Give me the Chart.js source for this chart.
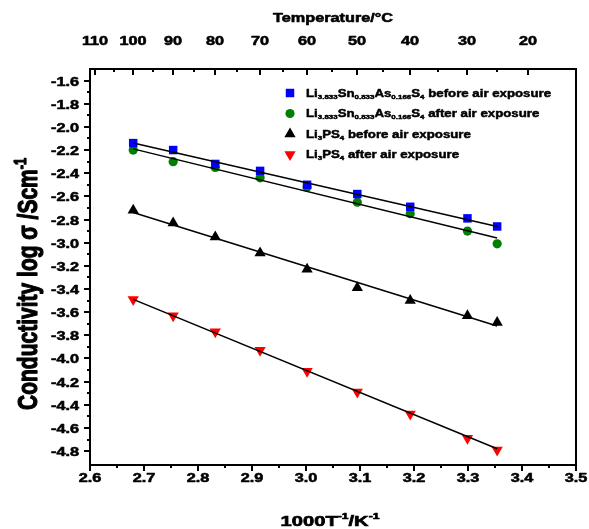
<!DOCTYPE html>
<html>
<head>
<meta charset="utf-8">
<script src="https://cdn.jsdelivr.net/npm/chart.js@4.4.1/dist/chart.umd.min.js"></script>
<style>
  html, body { margin: 0; padding: 0; background: #fff; }
</style>
</head>
<body>
<canvas id="arrhenius" width="589" height="529"></canvas>
<script>
// 1000/T (K^-1) of each measurement (100, 90, ... 30, 25 °C)
const invT = [2.680, 2.754, 2.832, 2.915, 3.002, 3.095, 3.193, 3.299, 3.354];

// log conductivity (S/cm)
const snAsBefore = [-2.14, -2.20, -2.32, -2.38, -2.50, -2.58, -2.69, -2.79, -2.86];
const snAsAfter  = [-2.20, -2.30, -2.35, -2.44, -2.52, -2.65, -2.75, -2.90, -3.01];
const lpsBefore  = [-2.72, -2.83, -2.95, -3.09, -3.23, -3.39, -3.50, -3.63, -3.69];
const lpsAfter   = [-3.49, -3.63, -3.77, -3.93, -4.11, -4.29, -4.48, -4.69, -4.79];

// linear fits: value at first and last 1000/T
const fitX = [2.680, 3.354];
const fitSnAsBefore = [-2.14, -2.86];
const fitSnAsAfter  = [-2.19, -2.96];
const fitLpsBefore  = [-2.74, -3.72];
const fitLpsAfter   = [-3.49, -4.78];

// axis tick labels
const xTicks = [2.6, 2.7, 2.8, 2.9, 3.0, 3.1, 3.2, 3.3, 3.4, 3.5];
const yTicks = [-1.6, -1.8, -2.0, -2.2, -2.4, -2.6, -2.8, -3.0, -3.2, -3.4, -3.6, -3.8, -4.0, -4.2, -4.4, -4.6, -4.8];
const tempTicks = [110, 100, 90, 80, 70, 60, 50, 40, 30, 20];
const tempMinor = [105, 95, 85, 75, 65, 55, 45, 35, 25];

// legend text, [text, 0 normal | 1 subscript | 2 superscript]
const legendRows = [
  [['Li', 0], ['3.833', 1], ['Sn', 0], ['0.833', 1], ['As', 0], ['0.166', 1], ['S', 0], ['4', 1], [' before air exposure', 0]],
  [['Li', 0], ['3.833', 1], ['Sn', 0], ['0.833', 1], ['As', 0], ['0.166', 1], ['S', 0], ['4', 1], [' after air exposure', 0]],
  [['Li', 0], ['3', 1], ['PS', 0], ['4', 1], [' before air exposure', 0]],
  [['Li', 0], ['3', 1], ['PS', 0], ['4', 1], [' after air exposure', 0]]
];

const FONT = '"Liberation Sans", Arial, sans-serif';
const SX = 1.3; // wide bold lettering

const pts = (xs, ys) => xs.map((x, i) => ({ x: x, y: ys[i] }));

function richWidth(c, segs, size) {
  let w = 0;
  for (const [t, k] of segs) {
    c.font = 'bold ' + (k ? size * 0.6 : size) + 'px ' + FONT;
    w += c.measureText(t).width;
  }
  return w;
}

// draws text runs with sub/superscripts; baseline at y
function drawRich(c, segs, x, y, size, align, rotated) {
  const w = richWidth(c, segs, size);
  let off = 0;
  if (align === 'center') off = -w / 2;
  if (align === 'right') off = -w;
  c.save();
  c.translate(x, y);
  if (rotated) {
    c.rotate(-Math.PI / 2);
    c.scale(1, SX);
  } else {
    c.scale(SX, 1);
  }
  c.textAlign = 'left';
  c.textBaseline = 'alphabetic';
  c.strokeStyle = c.fillStyle;
  c.lineWidth = size * 0.045;
  c.lineJoin = 'round';
  let cx = off;
  for (const [t, k] of segs) {
    c.font = 'bold ' + (k ? size * 0.6 : size) + 'px ' + FONT;
    const dy = k === 1 ? size * 0.22 : (k === 2 ? -size * 0.42 : 0);
    c.fillText(t, cx, dy);
    c.strokeText(t, cx, dy);
    cx += c.measureText(t).width;
  }
  c.restore();
}

const axesPlugin = {
  id: 'axesPlugin',
  afterDraw(chart) {
    const c = chart.ctx;
    const a = chart.chartArea;
    const xs = chart.scales.x;
    const ys = chart.scales.y;
    c.save();
    c.fillStyle = '#000';
    c.strokeStyle = '#000';

    c.lineWidth = 2;
    c.strokeRect(a.left, a.top, a.right - a.left, a.bottom - a.top);

    const tick = (x1, y1, x2, y2) => {
      c.beginPath(); c.moveTo(x1, y1); c.lineTo(x2, y2); c.stroke();
    };

    // left axis
    yTicks.forEach((v, i) => {
      const y = Math.round(ys.getPixelForValue(v));
      tick(a.left, y, a.left - 6, y);
      drawRich(c, [[v.toFixed(1), 0]], a.left - 11, y + 4.5, 12.5, 'right');
      if (i < yTicks.length - 1) {
        const ym = Math.round(ys.getPixelForValue(v - 0.1));
        tick(a.left, ym, a.left - 3, ym);
      }
    });

    // bottom axis
    xTicks.forEach((v, i) => {
      const x = Math.round(xs.getPixelForValue(v));
      tick(x, a.bottom, x, a.bottom + 6);
      drawRich(c, [[v.toFixed(1), 0]], x, a.bottom + 16.5, 12.5, 'center');
      if (i < xTicks.length - 1) {
        const xm = Math.round(xs.getPixelForValue(v + 0.05));
        tick(xm, a.bottom, xm, a.bottom + 3);
      }
    });

    // top axis: temperature in °C, ticks point inward
    tempTicks.forEach(t => {
      const x = Math.round(xs.getPixelForValue(1000 / (t + 273.15)));
      tick(x, a.top, x, a.top + 6);
      drawRich(c, [[String(t), 0]], x, 45, 12.5, 'center');
    });
    tempMinor.forEach(t => {
      const x = Math.round(xs.getPixelForValue(1000 / (t + 273.15)));
      tick(x, a.top, x, a.top + 3);
    });

    // titles
    drawRich(c, [['Temperature/°C', 0]], (a.left + a.right) / 2, 21.5, 12.5, 'center');
    drawRich(c, [['1000T', 0], ['-1', 2], ['/K', 0], ['-1', 2]], 330, 526, 15.5, 'center');
    drawRich(c, [['Conductivity log σ /Scm', 0], ['-1', 2]], 37, 284, 21, 'center', true);

    // legend
    const markers = chart.data.datasets.slice(0, 4);
    markers.forEach((ds, i) => {
      const y = 93 + i * 20.5;
      c.fillStyle = ds.backgroundColor;
      c.strokeStyle = ds.borderColor;
      Chart.helpers.drawPoint(c, {
        pointStyle: ds.pointStyle,
        radius: ds.pointRadius,
        rotation: ds.rotation || 0,
        borderWidth: 0
      }, 290, y);
      c.fillStyle = '#000';
      drawRich(c, legendRows[i], 306, y + 3.7, 10.2, 'left');
    });
    c.restore();
  }
};

const ctx = document.getElementById('arrhenius').getContext('2d');
const chart = new Chart(ctx, {
  type: 'scatter',
  data: {
    datasets: [
      { data: pts(invT, snAsBefore), pointStyle: 'rect', pointRadius: 6, backgroundColor: '#0000ff', borderColor: '#0000ff', borderWidth: 0, order: 1 },
      { data: pts(invT, snAsAfter), pointStyle: 'circle', pointRadius: 4.6, backgroundColor: '#008000', borderColor: '#008000', borderWidth: 0, order: 1 },
      { data: pts(invT, lpsBefore), pointStyle: 'triangle', pointRadius: 6.5, backgroundColor: '#000000', borderColor: '#000000', borderWidth: 0, order: 1 },
      { data: pts(invT, lpsAfter), pointStyle: 'triangle', rotation: 180, pointRotation: 180, pointRadius: 6.5, backgroundColor: '#ff0000', borderColor: '#ff0000', borderWidth: 0, order: 1 },
      { data: pts(fitX, fitSnAsBefore), showLine: true, pointRadius: 0, borderColor: '#000', borderWidth: 1.5, order: 0 },
      { data: pts(fitX, fitSnAsAfter), showLine: true, pointRadius: 0, borderColor: '#000', borderWidth: 1.5, order: 0 },
      { data: pts(fitX, fitLpsBefore), showLine: true, pointRadius: 0, borderColor: '#000', borderWidth: 1.5, order: 0 },
      { data: pts(fitX, fitLpsAfter), showLine: true, pointRadius: 0, borderColor: '#000', borderWidth: 1.5, order: 0 }
    ]
  },
  options: {
    responsive: false,
    animation: false,
    devicePixelRatio: 1,
    layout: { padding: { left: 0, right: 13, top: 69, bottom: 0 } },
    plugins: { legend: { display: false }, tooltip: { enabled: false } },
    scales: {
      x: {
        type: 'linear', position: 'bottom', min: 2.6, max: 3.5,
        grid: { display: false }, border: { display: false }, ticks: { display: false },
        afterFit: s => { s.height = 64; }
      },
      y: {
        type: 'linear', position: 'left', min: -4.92, max: -1.5,
        grid: { display: false }, border: { display: false }, ticks: { display: false },
        afterFit: s => { s.width = 90; }
      }
    }
  },
  plugins: [axesPlugin]
});
</script>
</body>
</html>
